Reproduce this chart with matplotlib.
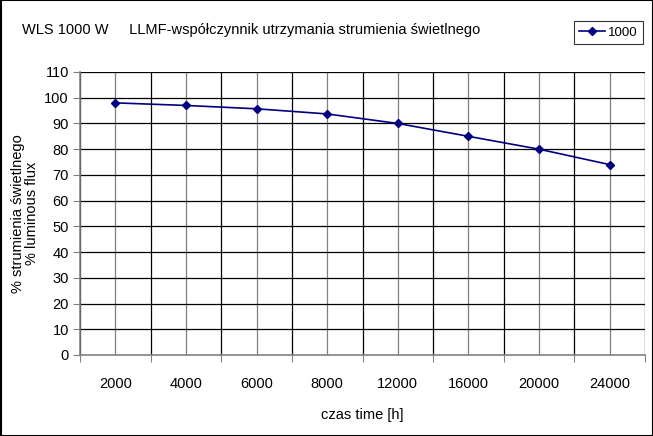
import numpy as np
import matplotlib
matplotlib.use('Agg')
import matplotlib.pyplot as plt
from matplotlib.patches import Rectangle

hours = ['2000', '4000', '6000', '8000', '12000', '16000', '20000', '24000']
flux_1000 = [98, 97, 95.7, 93.7, 90, 85, 80, 74]
yticks = list(range(0, 111, 10))

plt.rcParams['font.family'] = ['Liberation Sans', 'DejaVu Sans']

fig = plt.figure(figsize=(6.53, 4.36), dpi=100)
W, H = 653, 436
ax = fig.add_axes([80 / W, 1 - 355 / H, (645 - 80) / W, (355 - 72) / H])

x = np.arange(len(hours))
ax.set_xlim(-0.5, len(hours) - 0.5)
ax.set_ylim(0, 110)

# grid: black at category borders and every 10 %, grey through the points
for b in np.arange(-0.5, len(hours) + 0.5, 1.0):
    ax.axvline(b, color='black', lw=0.9, zorder=1)
for c in x:
    ax.axvline(c, color='#808080', lw=0.9, zorder=1)
for yv in yticks[1:]:
    ax.axhline(yv, color='black', lw=0.9, zorder=1)

ax.plot(x, flux_1000, color='#000080', marker='D', markersize=4.5, lw=1.2,
        label='1000', zorder=3)

ax.set_yticks(yticks)
ax.set_xticks(np.arange(-0.5, len(hours) + 0.5, 1.0))
ax.set_xticklabels([])
ax.set_xticks(x, minor=True)
ax.set_xticklabels(hours, minor=True)
ax.tick_params(axis='x', which='minor', length=0, pad=16, labelsize=10.5)
ax.tick_params(axis='x', which='major', length=5, color='#808080')
ax.tick_params(axis='y', length=5, color='#808080', labelsize=10.5, pad=3)

for s in ['top', 'right']:
    ax.spines[s].set_visible(False)
for s in ['left', 'bottom']:
    ax.spines[s].set_color('#808080')
    ax.spines[s].set_linewidth(1.2)

ax.set_xlabel('czas time [h]', fontsize=10.5, labelpad=12)
ax.set_ylabel('% strumienia świetlnego\n% luminous flux', fontsize=10.5,
              labelpad=4, linespacing=1.0)

fig.text(22 / W, 1 - 30 / H,
         'WLS 1000 W     LLMF-współczynnik utrzymania strumienia świetlnego',
         fontsize=10.5, va='center', ha='left')

leg = fig.legend(loc='upper right', bbox_to_anchor=(643 / W, 1 - 21 / H),
                 fontsize=9.5, frameon=True, fancybox=False, borderpad=0.4,
                 handlelength=2.0, handletextpad=0.2, borderaxespad=0)
leg.get_frame().set_edgecolor('black')
leg.get_frame().set_linewidth(0.8)

fig.patches.append(Rectangle((0.5 / W, 0.5 / H), 1 - 1 / W, 1 - 1 / H,
                             transform=fig.transFigure, fill=False,
                             edgecolor='black', lw=1.5))

fig.savefig('out.png', dpi=100)
